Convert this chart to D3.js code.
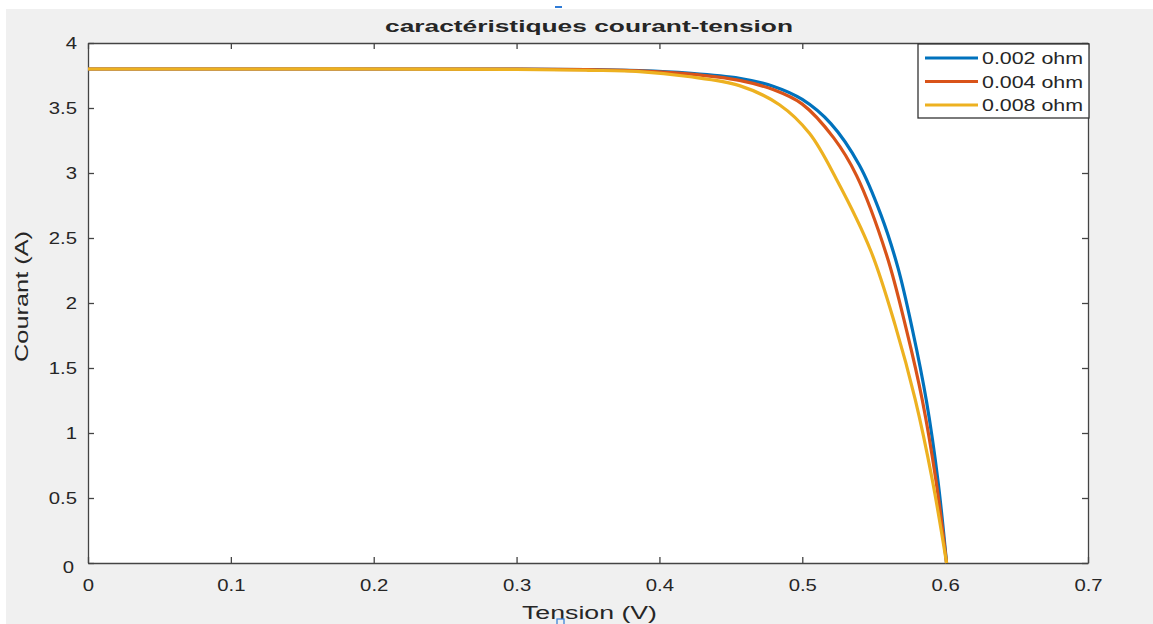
<!DOCTYPE html>
<html>
<head>
<meta charset="utf-8">
<script src="https://cdn.jsdelivr.net/npm/d3@7"></script>
<style>
  body { margin: 0; background: #ffffff; }
  text { font-family: "Liberation Sans", Arial, sans-serif; fill: #262626; }
</style>
</head>
<body>
<div id="chart"></div>
<script>
(function (d3) {
    'use strict';

    // values (tension in V, courant in A)
    var v002 = [0, 0.1, 0.2, 0.3, 0.35, 0.386, 0.42, 0.456, 0.48, 0.5, 0.52, 0.54, 0.555, 0.567, 0.577, 0.587, 0.595, 0.601];
    var i002 = [3.8, 3.8, 3.8, 3.799, 3.796, 3.787, 3.768, 3.728, 3.666, 3.566, 3.38, 3.06, 2.68, 2.27, 1.8, 1.24, 0.63, 0];

    var v004 = [0, 0.1, 0.2, 0.3, 0.35, 0.386, 0.42, 0.456, 0.48, 0.5, 0.522, 0.538, 0.559, 0.573, 0.584, 0.5935, 0.601];
    var i004 = [3.8, 3.8, 3.8, 3.799, 3.795, 3.785, 3.762, 3.712, 3.64, 3.53, 3.27, 2.98, 2.37, 1.79, 1.254, 0.64, 0];

    var v008 = [0, 0.1, 0.2, 0.3, 0.35, 0.386, 0.42, 0.456, 0.484, 0.505, 0.524, 0.548, 0.565, 0.579, 0.591, 0.601];
    var i008 = [3.8, 3.8, 3.8, 3.797, 3.79, 3.78, 3.742, 3.672, 3.525, 3.305, 2.95, 2.4, 1.83, 1.26, 0.64, 0];

    var seriesNames = ["0.002 ohm", "0.004 ohm", "0.008 ohm"];
    var seriesColors = ["#0072BD", "#D95319", "#EDB120"];
    var xTicks = [0, 0.1, 0.2, 0.3, 0.4, 0.5, 0.6, 0.7];
    var yTicks = [0, 0.5, 1, 1.5, 2, 2.5, 3, 3.5, 4];

    var series = [
        { name: seriesNames[0], color: seriesColors[0], v: v002, i: i002 },
        { name: seriesNames[1], color: seriesColors[1], v: v004, i: i004 },
        { name: seriesNames[2], color: seriesColors[2], v: v008, i: i008 }
    ];

    var svgWidth = 1153, svgHeight = 624;
    var left = 88, right = 1088, top = 43, bottom = 563;
    var stretch = 1.27; // the picture's text is wider than normal

    var svg = d3.select("#chart").append("svg")
        .attr("width", svgWidth)
        .attr("height", svgHeight);

    // figure background
    svg.append("rect")
        .attr("x", 6).attr("y", 9)
        .attr("width", svgWidth - 6).attr("height", svgHeight - 9)
        .attr("fill", "#f0f0f0");

    // axes background
    svg.append("rect")
        .attr("x", left).attr("y", top)
        .attr("width", right - left).attr("height", bottom - top)
        .attr("fill", "#ffffff");

    var x = d3.scaleLinear().domain([0, 0.7]).range([left, right]);
    var y = d3.scaleLinear().domain([0, 4]).range([bottom, top]);
    var fmt = d3.format(".1~f");

    function styleAxis(g) {
        g.select(".domain").attr("stroke", "#444").attr("stroke-width", 1.3);
        g.selectAll(".tick line").attr("stroke", "#444").attr("stroke-width", 1.3);
    }

    var gx = svg.append("g")
        .attr("transform", "translate(0," + bottom + ")")
        .call(d3.axisBottom(x).tickValues(xTicks).tickFormat(fmt).tickSizeInner(-6).tickSizeOuter(0).tickPadding(18))
        .call(styleAxis);
    gx.selectAll("text")
        .attr("font-family", "Liberation Sans, Arial, sans-serif")
        .attr("font-size", 16)
        .attr("fill", "#262626")
        .attr("dy", 0)
        .attr("y", 28)
        .attr("transform", "scale(" + stretch + ",1)");

    var gy = svg.append("g")
        .attr("transform", "translate(" + left + ",0)")
        .call(d3.axisLeft(y).tickValues(yTicks).tickFormat(fmt).tickSizeInner(-6).tickSizeOuter(0).tickPadding(12))
        .call(styleAxis);
    gy.selectAll("text")
        .attr("font-family", "Liberation Sans, Arial, sans-serif")
        .attr("font-size", 16)
        .attr("fill", "#262626")
        .attr("x", -11 / stretch)
        .attr("transform", "scale(" + stretch + ",1)");
    gy.selectAll(".tick").filter(function (d) { return d === 0; })
        .select("text").attr("x", -14 / stretch).attr("dy", "0.6em");

    svg.append("g")
        .attr("transform", "translate(0," + top + ")")
        .call(d3.axisTop(x).tickValues(xTicks).tickFormat("").tickSizeInner(-6).tickSizeOuter(0))
        .call(styleAxis);

    svg.append("g")
        .attr("transform", "translate(" + right + ",0)")
        .call(d3.axisRight(y).tickValues(yTicks).tickFormat("").tickSizeInner(-6).tickSizeOuter(0))
        .call(styleAxis);

    // curves
    var line = d3.line()
        .x(function (d) { return x(d[0]); })
        .y(function (d) { return y(d[1]); })
        .curve(d3.curveCatmullRom.alpha(0.5));

    svg.append("clipPath").attr("id", "plotclip")
        .append("rect")
        .attr("x", left).attr("y", top)
        .attr("width", right - left).attr("height", bottom - top + 1);

    svg.append("g").attr("clip-path", "url(#plotclip)")
        .selectAll("path")
        .data(series)
        .enter()
        .append("path")
        .attr("d", function (s) { return line(d3.zip(s.v, s.i)); })
        .attr("fill", "none")
        .attr("stroke", function (s) { return s.color; })
        .attr("stroke-width", 3.2);

    // title
    svg.append("text")
        .attr("x", 385).attr("y", 32)
        .attr("font-size", 17)
        .attr("font-weight", "bold")
        .attr("fill", "#000")
        .attr("textLength", 408)
        .attr("lengthAdjust", "spacingAndGlyphs")
        .text("caractéristiques courant-tension");

    // axis labels
    svg.append("text")
        .attr("x", 522).attr("y", 619)
        .attr("font-size", 18)
        .attr("textLength", 135)
        .attr("lengthAdjust", "spacingAndGlyphs")
        .text("Tension (V)");

    svg.append("text")
        .attr("transform", "translate(28,362) rotate(-90)")
        .attr("font-size", 19)
        .attr("textLength", 131)
        .attr("lengthAdjust", "spacingAndGlyphs")
        .text("Courant (A)");

    // legend
    var legend = svg.append("g");
    legend.append("rect")
        .attr("x", 918).attr("y", 44)
        .attr("width", 171).attr("height", 74)
        .attr("fill", "#ffffff")
        .attr("stroke", "#333")
        .attr("stroke-width", 1.3);

    var items = legend.selectAll("g.item")
        .data(series)
        .enter()
        .append("g")
        .attr("class", "item")
        .attr("transform", function (s, k) { return "translate(0," + (58 + k * 23.5) + ")"; });

    items.append("line")
        .attr("x1", 925).attr("x2", 978)
        .attr("stroke", function (s) { return s.color; })
        .attr("stroke-width", 3.2);

    items.append("text")
        .attr("x", 982).attr("y", 6)
        .attr("font-size", 16)
        .attr("textLength", 101)
        .attr("lengthAdjust", "spacingAndGlyphs")
        .text(function (s) { return s.name; });

    // small selection marks from the screenshot
    svg.append("rect").attr("x", 555).attr("y", 6).attr("width", 7).attr("height", 2).attr("fill", "#2f7bd6");
    svg.append("rect").attr("x", 557).attr("y", 619).attr("width", 7).attr("height", 6)
        .attr("fill", "none").attr("stroke", "#2f7bd6").attr("stroke-width", 1.2);
})(window.d3);
</script>
</body>
</html>
